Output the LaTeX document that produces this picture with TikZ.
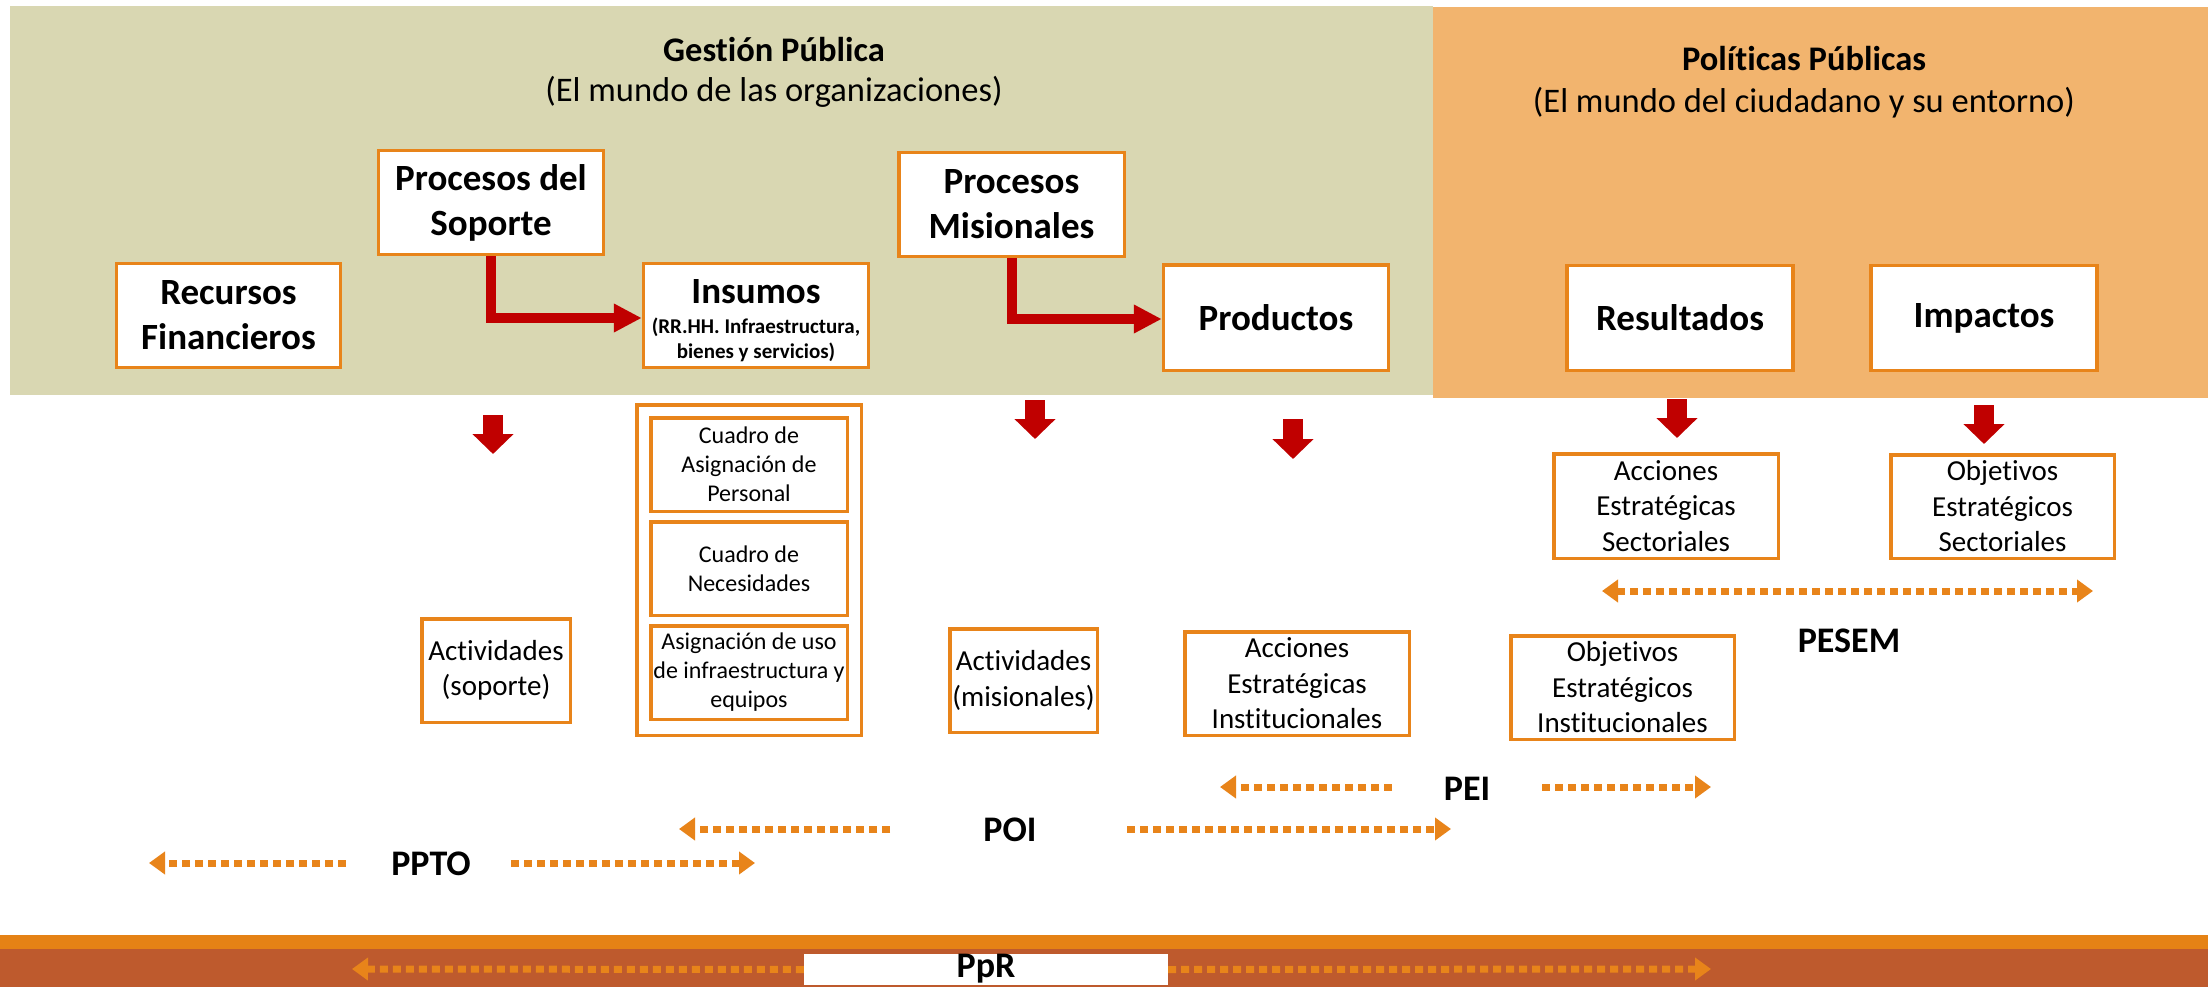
\documentclass[tikz,border=0pt]{standalone}
\usepackage{fontspec}
\setmainfont{Carlito}[Ligatures=NoCommon]
\usetikzlibrary{arrows.meta}
\definecolor{pgreen}{RGB}{217,215,178}
\definecolor{porange}{RGB}{242,180,110}
\definecolor{boxor}{RGB}{232,132,26}
\definecolor{redc}{RGB}{192,0,0}
\definecolor{bandor}{RGB}{229,130,21}
\definecolor{rust}{RGB}{190,90,45}
\tikzset{
  box/.style={draw=boxor, line width=3.5pt, fill=white, inner sep=0pt, align=center},
  big/.style={font=\fontsize{37}{45}\selectfont\bfseries},
  mid/.style={font=\fontsize{29}{35.5}\selectfont},
  small/.style={font=\fontsize{24}{29}\selectfont},
  title/.style={font=\fontsize{34.5}{42}\selectfont\bfseries, anchor=base},
  subtitle/.style={font=\fontsize{34.5}{42}\selectfont, anchor=base},
  lbl/.style={font=\fontsize{36}{44}\selectfont\bfseries, anchor=base, inner sep=0pt},
  dotline/.style={draw=boxor, line width=7pt, dash pattern=on 8pt off 5pt},
  dotarr/.style={dotline, -{Triangle[width=22pt,length=16pt]}},
  dotdbl/.style={dotline, {Triangle[width=22pt,length=16pt]}-{Triangle[width=22pt,length=16pt]}},
  larr/.style={draw=redc, line width=10pt, line join=miter, -{Triangle[width=27pt,length=28pt]}},
  blockarr/.style={draw=redc, line width=20pt, -{Triangle[width=40pt,length=20pt]}},
}
\begin{document}
\begin{tikzpicture}[x=1pt,y=-1pt]
\useasboundingbox (0,0) rectangle (2208,987);
\fill[white] (0,0) rectangle (2208,987);
% panels
\fill[pgreen] (10,6) rectangle (1433,395);
\fill[porange] (1433,7) rectangle (2208,398);
% bottom band
\fill[bandor] (0,935) rectangle (2208,949);
\fill[rust] (0,949) rectangle (2208,987);

% titles
\node[title] (gpT) at (774,62) {Gestión Pública};
\node[subtitle] (gpS) at (774,102) {(El mundo de las organizaciones)};
\node[title] (ppT) at (1804,70.5) {Políticas Públicas};
\node[subtitle] (ppS) at (1804,112.5) {(El mundo del ciudadano y su entorno)};

% upper boxes
\node[box,big,minimum width=224pt,minimum height=104pt] (rec) at (228.5,315.5) {Recursos\\Financieros};
\node[box,big,minimum width=225pt,minimum height=104pt] (sop) at (491,202.5) {Procesos del\\Soporte};
\node[box,minimum width=225pt,minimum height=104pt] (ins) at (756,315.5) {};
\node[big,anchor=base,inner sep=0pt] (insT) at (756,303) {Insumos};
\node[font=\fontsize{21}{25}\selectfont\bfseries,anchor=base,inner sep=0pt] (insS1) at (756,333) {(RR.HH. Infraestructura,};
\node[font=\fontsize{21}{25}\selectfont\bfseries,anchor=base,inner sep=0pt] (insS2) at (756,358) {bienes y servicios)};
\node[box,big,minimum width=225.5pt,minimum height=104pt] (mis) at (1011.5,204.5) {Procesos\\Misionales};
\node[box,big,minimum width=225pt,minimum height=105.5pt] (pro) at (1276,317.5) {Productos};
\node[box,big,minimum width=226pt,minimum height=105pt] (res) at (1680,318) {Resultados};
\node[box,big,minimum width=226pt,minimum height=105pt] (imp) at (1984,318) {Impactos};

% red L arrows
\draw[larr] (sop.south) |- ([yshift=-2.5pt]ins.west);
\draw[larr] (mis.south) |- ([yshift=-1.5pt]pro.west);

% red block arrows
\coordinate (a1s) at (493,415); \coordinate (a1e) at (493,454);
\coordinate (a2s) at (1035,400); \coordinate (a2e) at (1035,439);
\coordinate (a3s) at (1293,419); \coordinate (a3e) at (1293,459);
\coordinate (a4s) at (1677,399); \coordinate (a4e) at (1677,438);
\coordinate (a5s) at (1984,405); \coordinate (a5e) at (1984,444);
\draw[blockarr] (a1s) -- (a1e);
\draw[blockarr] (a2s) -- (a2e);
\draw[blockarr] (a3s) -- (a3e);
\draw[blockarr] (a4s) -- (a4e);
\draw[blockarr] (a5s) -- (a5e);

% lower boxes
\node[box,mid,minimum width=148.5pt,minimum height=103.5pt] (actS) at (496,670.5) {Actividades\\(soporte)};
\node[box,minimum width=224.5pt,minimum height=330.5pt] (grp) at (749,570) {};
\node[box,small,minimum width=196.5pt,minimum height=93.5pt] (in1) at (749,464.5) {Cuadro de\\Asignación de\\Personal};
\node[box,small,minimum width=196.5pt,minimum height=93.5pt] (in2) at (749,568.5) {Cuadro de\\Necesidades};
\node[box,small,minimum width=196.5pt,minimum height=93.5pt] (in3) at (749,672.5) {Asignación de uso\\de infraestructura y\\equipos};
\node[box,mid,minimum width=147.5pt,minimum height=103.5pt] (actM) at (1023.5,680.5) {Actividades\\(misionales)};
\node[box,mid,minimum width=224.5pt,minimum height=103.5pt] (aei) at (1297,683.5) {Acciones\\Estratégicas\\Institucionales};
\node[box,mid,minimum width=223.5pt,minimum height=103.5pt] (oei) at (1622.5,687.5) {Objetivos\\Estratégicos\\Institucionales};
\node[box,mid,minimum width=224.5pt,minimum height=104.5pt] (aes) at (1666,506) {Acciones\\Estratégicas\\Sectoriales};
\node[box,mid,minimum width=223.5pt,minimum height=103.5pt] (oes) at (2002.5,506.5) {Objetivos\\Estratégicos\\Sectoriales};

% PESEM
\coordinate (pesemL) at (1602,591); \coordinate (pesemR) at (2093,591);
\draw[dotdbl] (pesemL) -- (pesemR);
\node[lbl] (pesem) at (1849,652) {PESEM};

% PEI
\node[lbl] (pei) at (1467,800) {PEI};
\coordinate (peiL1) at (1392,787); \coordinate (peiL2) at (1220,787);
\coordinate (peiR1) at (1542,787); \coordinate (peiR2) at (1711,787);
\draw[dotarr] (peiL1) -- (peiL2);
\draw[dotarr] (peiR1) -- (peiR2);

% POI
\node[lbl] (poi) at (1010,841) {POI};
\coordinate (poiL1) at (890,829); \coordinate (poiL2) at (679,829);
\coordinate (poiR1) at (1127,829); \coordinate (poiR2) at (1451,829);
\draw[dotarr] (poiL1) -- (poiL2);
\draw[dotarr] (poiR1) -- (poiR2);

% PPTO
\node[lbl] (ppto) at (431,875) {PPTO};
\coordinate (pptoL1) at (346,863); \coordinate (pptoL2) at (149,863);
\coordinate (pptoR1) at (511,863); \coordinate (pptoR2) at (755,863);
\draw[dotarr] (pptoL1) -- (pptoL2);
\draw[dotarr] (pptoR1) -- (pptoR2);

% PpR
\node[fill=white, inner sep=0pt, minimum width=364pt, minimum height=31pt] (pprbox) at (986,969.5) {};
\node[lbl] (ppr) at (986,977.5) {PpR};
\coordinate (pprL) at (352,969); \coordinate (pprR) at (1711,969);
\draw[dotarr] (pprbox.west) -- (pprL);
\draw[dotarr] (pprbox.east) -- (pprR);
\end{tikzpicture}
\end{document}
